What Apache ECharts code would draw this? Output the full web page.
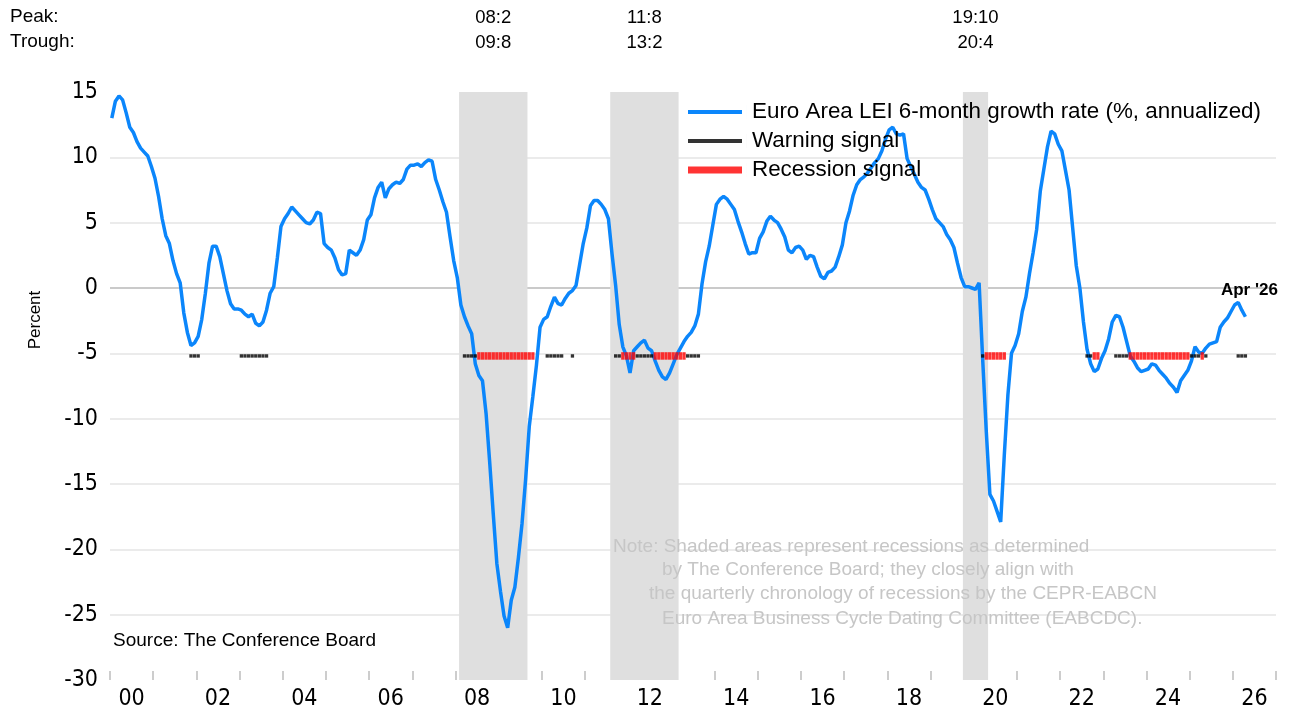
<!DOCTYPE html>
<html>
<head>
<meta charset="utf-8">
<title>Euro Area LEI</title>
<script src="https://cdn.jsdelivr.net/npm/echarts@6/dist/echarts.min.js"></script>
<style>
html,body{margin:0;padding:0;background:#fff;}
#main{width:1293px;height:717px;}
</style>
</head>
<body>
<div id="main"></div>
<script>
var startYear = 2000;
var yearLabels = ['00','01','02','03','04','05','06','07','08','09','10','11','12','13',
    '14','15','16','17','18','19','20','21','22','23','24','25','26'];

// monthly values, Jan 2000 .. Apr 2026 (one row per year)
var leiGrowth = [
    13.0, 14.3, 14.7, 14.4, 13.4, 12.3, 11.9, 11.2, 10.7, 10.4, 10.1, 9.3,
    8.4, 7.0, 5.3, 4.0, 3.4, 2.1, 1.1, 0.4, -1.9, -3.4, -4.4, -4.2,
    -3.7, -2.4, -0.4, 1.9, 3.2, 3.2, 2.4, 1.1, -0.2, -1.2, -1.6, -1.6,
    -1.7, -2.0, -2.2, -2.0, -2.7, -2.9, -2.6, -1.7, -0.4, 0.1, 2.3, 4.7,
    5.3, 5.7, 6.2, 5.9, 5.6, 5.3, 5.0, 4.9, 5.2, 5.8, 5.7, 3.4,
    3.1, 2.9, 2.3, 1.4, 1.0, 1.1, 2.9, 2.7, 2.5, 2.9, 3.7, 5.2,
    5.6, 6.9, 7.7, 8.1, 6.9, 7.6, 7.9, 8.1, 8.0, 8.3, 9.1, 9.4,
    9.4, 9.5, 9.3, 9.6, 9.8, 9.7, 8.3, 7.5, 6.6, 5.8, 3.9, 2.1,
    0.8, -1.3, -2.2, -2.9, -3.5, -5.8, -6.7, -7.1, -9.6, -13.3, -17.3, -21.1,
    -23.2, -25.1, -26.0, -23.9, -22.9, -20.6, -18.0, -14.6, -10.6, -8.3, -5.9, -3.0,
    -2.4, -2.2, -1.4, -0.7, -1.2, -1.3, -0.8, -0.4, -0.2, 0.2, 1.8, 3.4,
    4.6, 6.3, 6.7, 6.7, 6.4, 6.0, 5.3, 2.6, 0.2, -2.8, -4.5, -5.2,
    -6.5, -4.8, -4.5, -4.2, -4.0, -4.6, -4.8, -5.6, -6.3, -6.8, -7.0, -6.5,
    -5.8, -5.1, -4.6, -4.1, -3.7, -3.4, -2.9, -2.0, 0.3, 2.0, 3.2, 4.8,
    6.4, 6.8, 7.0, 6.8, 6.4, 6.0, 5.1, 4.3, 3.4, 2.6, 2.7, 2.7,
    3.8, 4.3, 5.1, 5.5, 5.2, 5.0, 4.5, 3.9, 2.9, 2.7, 3.1, 3.2,
    2.9, 2.2, 2.5, 2.4, 1.6, 0.9, 0.7, 1.2, 1.3, 1.6, 2.4, 3.3,
    5.0, 5.9, 7.1, 7.9, 8.3, 8.5, 8.8, 9.2, 9.6, 9.9, 10.5, 11.4,
    12.1, 12.3, 11.8, 11.7, 11.8, 9.9, 9.3, 8.7, 8.1, 7.7, 7.5, 6.8,
    6.0, 5.3, 5.0, 4.7, 4.1, 3.7, 3.1, 1.9, 0.8, 0.1, 0.1, 0.0,
    -0.1, 0.4, -5.5, -11.0, -15.8, -16.3, -17.1, -17.9, -12.8, -8.2, -5.0, -4.4,
    -3.5, -1.8, -0.7, 1.1, 2.7, 4.5, 7.4, 9.1, 10.8, 12.0, 11.8, 11.0,
    10.5, 9.0, 7.5, 4.6, 1.7, 0.0, -2.6, -4.7, -5.8, -6.4, -6.2, -5.4,
    -4.8, -3.9, -2.6, -2.1, -2.2, -3.0, -4.1, -5.2, -5.6, -6.1, -6.4, -6.3,
    -6.2, -5.8, -5.9, -6.3, -6.6, -6.9, -7.3, -7.6, -8.0, -7.1, -6.7, -6.3,
    -5.6, -4.5, -4.9, -5.0, -4.6, -4.3, -4.2, -4.1, -3.0, -2.6, -2.3, -1.8,
    -1.3, -1.1, -1.7, -2.2
];
var latestLabel = "Apr '26";

// signal periods [from, to]
var warningSignal = [
    ['2001-11', '2002-01'], ['2003-01', '2003-08'], ['2008-03', '2008-06'],
    ['2010-02', '2010-06'], ['2010-09', '2010-09'], ['2011-09', '2011-10'],
    ['2012-03', '2012-07'], ['2013-05', '2013-08'], ['2020-03', '2020-03'],
    ['2022-08', '2022-09'], ['2023-04', '2023-07'], ['2025-01', '2025-03'],
    ['2025-05', '2025-05'], ['2026-02', '2026-04']
];
var recessionSignal = [
    ['2008-07', '2009-10'], ['2011-11', '2012-02'], ['2012-08', '2013-04'],
    ['2020-04', '2020-09'], ['2022-10', '2022-11'], ['2023-08', '2024-12'],
    ['2025-04', '2025-04']
];
var signalLevel = -5.2;

// recessions: peak, trough
var recessions = [
    ['2008-02', '2009-08', '08:2', '09:8'],
    ['2011-08', '2013-02', '11:8', '13:2'],
    ['2019-10', '2020-04', '19:10', '20:4']
];

var noteLines = [
    'Note: Shaded areas represent recessions as determined',
    'by The Conference Board; they closely align with',
    'the quarterly chronology of recessions by the CEPR-EABCN',
    'Euro Area Business Cycle Dating Committee (EABCDC).'
];

var sans = "'Liberation Sans', Arial, sans-serif";
var narrow = "'DejaVu Sans Condensed', 'Liberation Sans Narrow', sans-serif";

function monthIndex(s) {
    var p = s.split('-');
    return (parseInt(p[0], 10) - startYear) * 12 + parseInt(p[1], 10) - 1;
}
function monthX(i) {
    return startYear + (i + 0.5) / 12;
}

var lineData = leiGrowth.map(function (v, i) { return [monthX(i), v]; });

function expand(ranges) {
    var out = [];
    ranges.forEach(function (r) {
        for (var m = monthIndex(r[0]); m <= monthIndex(r[1]); m++) {
            out.push([monthX(m), signalLevel]);
        }
    });
    return out;
}

var areas = recessions.map(function (r) {
    return [
        { xAxis: startYear + monthIndex(r[0]) / 12, name: r[2] + '\n' + r[3] },
        { xAxis: startYear + (monthIndex(r[1]) + 1) / 12 }
    ];
});

var lineName = 'Euro Area LEI 6-month growth rate (%, annualized)';
var last = lineData[lineData.length - 1];

var gridColors = ['rgba(0,0,0,0)', '#e4e4e4', '#e4e4e4', '#e4e4e4', '#e4e4e4', '#e4e4e4',
    '#b9b9b9', '#e4e4e4', '#e4e4e4', 'rgba(0,0,0,0)'];

var graphics = [
    { type: 'text', x: 10, y: 17, style: { text: 'Peak:', font: '19px ' + sans, fill: '#000', verticalAlign: 'middle' } },
    { type: 'text', x: 10, y: 42, style: { text: 'Trough:', font: '19px ' + sans, fill: '#000', verticalAlign: 'middle' } },
    { type: 'text', x: 35, y: 320, rotation: Math.PI / 2,
      style: { text: 'Percent', font: '17px ' + sans, fill: '#000', align: 'center', verticalAlign: 'middle' } },
    { type: 'text', x: 113, y: 641, style: { text: 'Source: The Conference Board', font: '19px ' + sans, fill: '#000', verticalAlign: 'middle' } }
];
var noteX = [613, 662, 649, 662];
var noteY = [547, 570, 594, 619];
noteLines.forEach(function (t, i) {
    graphics.push({ type: 'text', x: noteX[i], y: noteY[i], z: 10,
        style: { text: t, font: '19px ' + sans, fill: '#c6c6c6', verticalAlign: 'middle' } });
});

var option = {
    animation: false,
    backgroundColor: '#fff',
    grid: { left: 110, right: 17, top: 92, bottom: 37 },
    legend: {
        orient: 'vertical',
        left: 688,
        top: 101,
        padding: 0,
        itemWidth: 59,
        itemHeight: 14,
        itemGap: 7,
        selectedMode: false,
        itemStyle: { borderWidth: 0 },
        textStyle: { fontFamily: sans, fontSize: 22.4, color: '#000' },
        data: [
            { name: lineName, icon: 'path://M0,5h54v4h-54z M58.99,0h0.01v14h-0.01z' },
            { name: 'Warning signal', icon: 'path://M0,5h54v4h-54z M58.99,0h0.01v14h-0.01z' },
            { name: 'Recession signal', icon: 'path://M0,3.5h54v7h-54z M58.99,0h0.01v14h-0.01z' }
        ]
    },
    xAxis: [
        {
            type: 'category',
            data: yearLabels,
            boundaryGap: true,
            axisLine: { show: false, onZero: false },
            axisTick: { show: true, inside: true, length: 9, interval: 0, lineStyle: { color: '#bdbdbd', width: 1.5 } },
            axisLabel: { interval: 1, margin: 8, color: '#000', fontFamily: narrow, fontSize: 23 },
            splitLine: { show: false }
        },
        {
            type: 'value',
            min: startYear,
            max: startYear + yearLabels.length,
            show: false,
            axisLine: { onZero: false },
            splitLine: { show: false }
        }
    ],
    yAxis: {
        type: 'value',
        min: -30,
        max: 15,
        interval: 5,
        axisLine: { show: false },
        axisTick: { show: false },
        axisLabel: { margin: 12, color: '#000', fontFamily: narrow, fontSize: 23 },
        splitLine: { show: true, lineStyle: { color: gridColors, width: 1.5 } }
    },
    graphic: graphics,
    series: [
        {
            name: 'recessions',
            type: 'line',
            xAxisIndex: 1,
            data: [],
            z: 1,
            silent: true,
            markArea: {
                silent: true,
                itemStyle: { color: '#dfdfdf' },
                label: {
                    show: true, position: 'top', distance: 37,
                    color: '#000', fontFamily: sans, fontSize: 18.5, lineHeight: 25, align: 'center'
                },
                data: areas
            }
        },
        {
            name: lineName,
            type: 'line',
            xAxisIndex: 1,
            data: lineData,
            showSymbol: false,
            symbol: 'none',
            z: 3,
            color: '#0b86fb',
            lineStyle: { width: 3.5, color: '#0b86fb' },
            markPoint: {
                symbol: 'circle',
                symbolSize: 1,
                itemStyle: { color: 'rgba(0,0,0,0)' },
                label: {
                    show: true, position: 'inside', offset: [4, -26],
                    formatter: latestLabel, color: '#000', fontFamily: sans, fontSize: 17, fontWeight: 'bold'
                },
                data: [{ coord: last }]
            }
        },
        {
            name: 'Warning signal',
            type: 'scatter',
            xAxisIndex: 1,
            data: expand(warningSignal),
            symbol: 'rect',
            symbolSize: [3.3, 3.4],
            z: 4,
            color: '#000',
            itemStyle: { color: '#000' }
        },
        {
            name: 'Recession signal',
            type: 'scatter',
            xAxisIndex: 1,
            data: expand(recessionSignal),
            symbol: 'rect',
            symbolSize: [3.3, 7.5],
            z: 5,
            color: '#ff0000',
            itemStyle: { color: '#ff0000' }
        }
    ]
};

var myChart = echarts.init(document.getElementById('main'));
myChart.setOption(option);
</script>
</body>
</html>
